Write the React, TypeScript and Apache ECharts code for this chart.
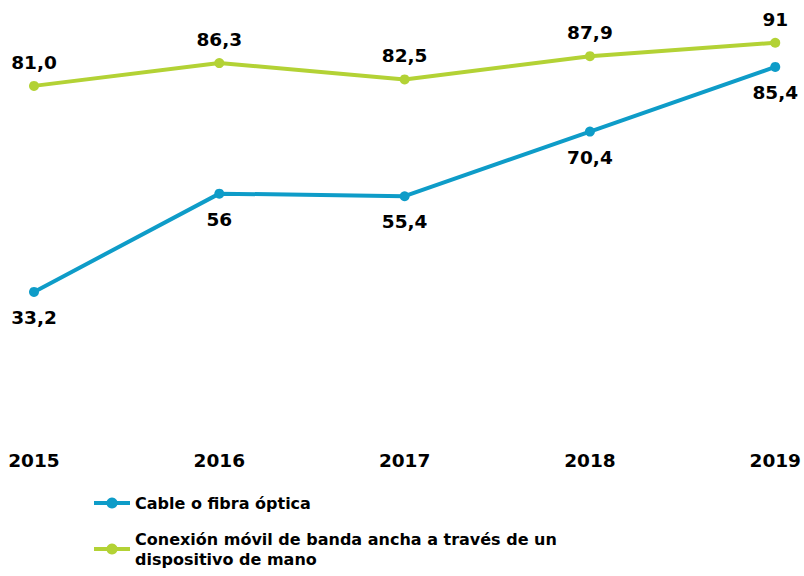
import React, { useEffect, useRef } from "react";
import * as echarts from "echarts";

const years = ["2015", "2016", "2017", "2018", "2019"];
const cableName = "Cable o fibra óptica";
const movilName = "Conexión móvil de banda ancha a través de un dispositivo de mano";
const cableValues = [33.2, 56, 55.4, 70.4, 85.4];
const cableLabels = ["33,2", "56", "55,4", "70,4", "85,4"];
const movilValues = [81.0, 86.3, 82.5, 87.9, 91];
const movilLabels = ["81,0", "86,3", "82,5", "87,9", "91"];

const BLUE = "#0e9cc8";
const GREEN = "#b3d235";
const FONT = "DejaVu Sans";

export default function App() {
  const ref = useRef<HTMLDivElement>(null);
  useEffect(() => {
    if (!ref.current) return;
    const chart = echarts.init(ref.current, null, { renderer: "svg" });
    const labelStyle = {
      show: true,
      fontFamily: FONT,
      fontWeight: "bold" as const,
      fontSize: 18.5,
      color: "#000",
    };
    const legendText = { fontFamily: FONT, fontWeight: "bold", fontSize: 16, color: "#000", lineHeight: 20 };
    chart.setOption({
      animation: false,
      grid: { left: 34, right: 27, top: 4, bottom: 141 },
      xAxis: {
        type: "category",
        data: years,
        boundaryGap: false,
        axisLine: { show: false },
        axisTick: { show: false },
        splitLine: { show: false },
        axisLabel: {
          fontFamily: FONT,
          fontWeight: "bold",
          fontSize: 18.5,
          color: "#000",
          margin: 16,
        },
      },
      yAxis: { type: "value", min: 0, max: 100, show: false },
      legend: [
        {
          data: [{ name: cableName }],
          orient: "vertical",
          left: 92,
          top: 493,
          padding: 0,
          itemWidth: 36,
          itemHeight: 14,
          lineStyle: { width: 4 },
          textStyle: legendText,
        },
        {
          data: [{ name: movilName, textStyle: { padding: [20, 0, 0, 0] } }],
          orient: "vertical",
          left: 92,
          top: 519,
          padding: 0,
          itemWidth: 36,
          itemHeight: 14,
          lineStyle: { width: 4 },
          formatter: (n: string) =>
            n === movilName ? "Conexión móvil de banda ancha a través de un\ndispositivo de mano" : n,
          textStyle: legendText,
        },
      ],
      series: [
        {
          name: cableName,
          type: "line",
          data: cableValues,
          symbol: "circle",
          symbolSize: 10,
          color: BLUE,
          lineStyle: { width: 4, color: BLUE },
          itemStyle: { color: BLUE },
          label: {
            ...labelStyle,
            position: "bottom",
            distance: 11,
            formatter: (p: any) => cableLabels[p.dataIndex],
          },
        },
        {
          name: movilName,
          type: "line",
          data: movilValues,
          symbol: "circle",
          symbolSize: 10,
          color: GREEN,
          lineStyle: { width: 4, color: GREEN },
          itemStyle: { color: GREEN },
          label: {
            ...labelStyle,
            position: "top",
            distance: 9,
            formatter: (p: any) => movilLabels[p.dataIndex],
          },
        },
      ],
    });
    return () => chart.dispose();
  }, []);
  return (
    <div
      ref={ref}
      style={{ position: "absolute", left: 0, top: 0, width: 804, height: 576 }}
    />
  );
}
